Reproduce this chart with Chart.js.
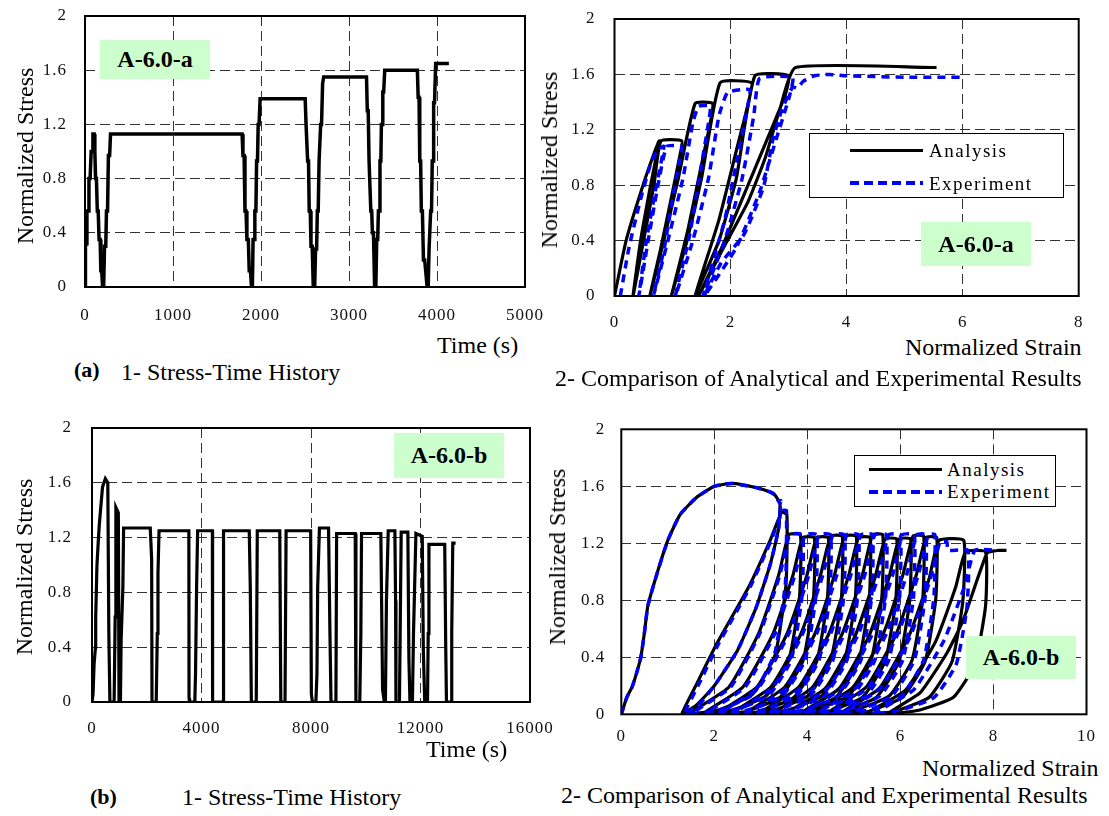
<!DOCTYPE html>
<html>
<head>
<meta charset="utf-8">
<script src="https://cdn.jsdelivr.net/npm/chart.js@4.4.0/dist/chart.umd.min.js"></script>
<style>
  html, body { margin: 0; padding: 0; background: #fff; }
  #page { position: relative; width: 1109px; height: 816px; overflow: hidden;
          font-family: 'Liberation Serif', 'Times New Roman', serif; color: #000; }
  canvas { position: absolute; }
  .txt    { position: absolute; white-space: nowrap; line-height: 1; font-size: 24px; }
  .ytitle { position: absolute; white-space: nowrap; line-height: 1; font-size: 24px;
            transform: translate(-50%, -50%) rotate(-90deg); }
  .tag    { position: absolute; background: #ccffcc; font-weight: bold; font-size: 24px;
            display: flex; align-items: center; justify-content: center; }
  .legend { position: absolute; background: #fff; border: 1px solid #000; box-sizing: border-box; }
  .legend .solid  { position: absolute; height: 3px; background: #000; }
  .legend .dashed { position: absolute; height: 4px;
                    background: repeating-linear-gradient(to right, #0000ff 0 9px, transparent 9px 14px); }
  .legend .lbl    { position: absolute; font-size: 19px; letter-spacing: 1.5px; line-height: 1; }
</style>
</head>
<body>
<div id="page">
  <canvas id="c1" width="545" height="330" style="left:0;top:0"></canvas>
  <canvas id="c2" width="569" height="330" style="left:540px;top:0"></canvas>
  <canvas id="c3" width="560" height="350" style="left:0;top:400px"></canvas>
  <canvas id="c4" width="569" height="350" style="left:540px;top:400px"></canvas>

  <!-- (a) row -->
  <div class="ytitle" style="left:25px;top:156px">Normalized Stress</div>
  <div class="tag" style="left:100px;top:40px;width:110px;height:39px">A-6.0-a</div>
  <div class="txt" style="left:437px;top:333px">Time (s)</div>
  <div class="txt" style="left:74px;top:359px;font-size:22px;font-weight:bold">(a)</div>
  <div class="txt" style="left:121px;top:360px">1- Stress-Time History</div>

  <div class="ytitle" style="left:549px;top:160px">Normalized Stress</div>
  <div class="legend" style="left:809px;top:133px;width:255px;height:65px">
    <div class="solid"  style="left:40px;top:15px;width:73px"></div>
    <div class="lbl"    style="left:119px;top:7px">Analysis</div>
    <div class="dashed" style="left:40px;top:47px;width:73px"></div>
    <div class="lbl"    style="left:119px;top:40px">Experiment</div>
  </div>
  <div class="tag" style="left:921px;top:222px;width:110px;height:44px">A-6.0-a</div>
  <div class="txt" style="left:905px;top:335px">Normalized Strain</div>
  <div class="txt" style="left:555px;top:366px">2- Comparison of Analytical and Experimental Results</div>

  <!-- (b) row -->
  <div class="ytitle" style="left:24px;top:567px">Normalized Stress</div>
  <div class="tag" style="left:394px;top:433px;width:110px;height:45px">A-6.0-b</div>
  <div class="txt" style="left:426px;top:737px">Time (s)</div>
  <div class="txt" style="left:90px;top:786px;font-size:22px;font-weight:bold">(b)</div>
  <div class="txt" style="left:182px;top:785px">1- Stress-Time History</div>

  <div class="ytitle" style="left:557px;top:557px">Normalized Stress</div>
  <div class="legend" style="left:854px;top:455px;width:202px;height:52px">
    <div class="solid"  style="left:14px;top:12px;width:73px"></div>
    <div class="lbl"    style="left:92px;top:4px">Analysis</div>
    <div class="dashed" style="left:14px;top:34px;width:73px"></div>
    <div class="lbl"    style="left:92px;top:26px">Experiment</div>
  </div>
  <div class="tag" style="left:966px;top:636px;width:110px;height:43px">A-6.0-b</div>
  <div class="txt" style="left:922px;top:756px">Normalized Strain</div>
  <div class="txt" style="left:561px;top:783px">2- Comparison of Analytical and Experimental Results</div>
</div>

<script>
/* ── ticks ── */
const stressTicks = [0, 0.4, 0.8, 1.2, 1.6, 2];
const timeTicksA  = [0, 1000, 2000, 3000, 4000, 5000];
const timeTicksB  = [0, 4000, 8000, 12000, 16000];
const strainTicksA = [0, 2, 4, 6, 8];
const strainTicksB = [0, 2, 4, 6, 8, 10];

/* ── (a) stress-time history [time, stress] ── */
const historyA = [
  [0,0],[5,0.3],[15,0.32],[22,0.56],[35,0.56],[45,0.8],[58,0.8],[70,1.0],[80,1.0],[90,1.13],
  [104,1.13],[112,1.0],[120,0.8],[130,0.8],[140,0.56],[150,0.56],[160,0.35],[172,0.35],[180,0.12],[190,0.12],
  [200,0],[212,0],[222,0.3],[236,0.3],[244,0.56],[256,0.56],[266,0.97],[280,0.97],[290,1.13],
  [1785,1.13],[1795,0.97],[1808,0.97],[1818,0.56],[1830,0.56],[1840,0.35],[1856,0.35],[1866,0.12],[1880,0.12],[1892,0],
  [1902,0],[1910,0.35],[1922,0.35],[1930,0.56],[1942,0.56],[1950,0.93],[1960,0.93],[1968,1.2],[1978,1.2],[1990,1.39],
  [2502,1.39],[2512,1.2],[2522,1.2],[2530,0.93],[2540,0.93],[2548,0.56],[2560,0.56],[2568,0.3],[2582,0.3],[2594,0],
  [2610,0],[2620,0.28],[2632,0.28],[2640,0.56],[2650,0.56],[2660,0.93],[2670,0.93],[2678,1.2],[2688,1.2],[2700,1.5],[2712,1.55],
  [3199,1.55],[3208,1.3],[3218,1.3],[3228,0.93],[3238,0.93],[3248,0.56],[3258,0.56],[3266,0.4],[3278,0.4],[3291,0],
  [3305,0],[3315,0.35],[3326,0.35],[3334,0.56],[3345,0.56],[3352,0.93],[3362,0.93],[3368,1.2],[3378,1.2],[3384,1.44],[3394,1.44],[3406,1.6],
  [3777,1.6],[3786,1.4],[3796,1.4],[3804,0.93],[3814,0.93],[3822,0.56],[3834,0.56],[3846,0.2],[3860,0.2],[3888,0],
  [3900,0],[3910,0.28],[3920,0.28],[3928,0.56],[3938,0.56],[3946,0.93],[3956,0.93],[3962,1.36],[3972,1.36],[3985,1.65],[4135,1.65]
];

/* ── (b) stress-time history ── */
const historyB = [
  [0,0],[38,0.06],[77,0.28],[128,0.4],[135,0.62],[180,0.99],[231,1.18],[269,1.3],[333,1.45],[385,1.57],
  [487,1.63],[577,1.6],[615,0.5],[654,0],[808,0],[846,0.62],[872,1.42],[962,1.38],[987,0],[1038,0],
  [1064,0.45],[1128,0.84],[1154,1.27],[2128,1.27],[2179,1.04],[2192,0],[2346,0],[2385,0.5],[2410,0.94],[2449,1.25],
  [3538,1.25],[3545,0.03],[3564,0],[3756,0],[3782,0.21],[3821,0.84],[3859,1.25],[4397,1.25],[4405,0],[4795,0],
  [4805,1.25],[5744,1.25],[5782,0.84],[5821,0],[6000,0],[6038,1.25],[6859,1.25],[6897,0],[7051,0],[7090,1.25],
  [7987,1.25],[8013,0.06],[8051,0],[8179,0],[8218,0.21],[8244,0.84],[8308,1.27],[8641,1.27],[8692,0.5],[8731,0],
  [8910,0],[8936,1.23],[9615,1.23],[9641,0],[9782,0],[9821,0.5],[9846,1.23],[10551,1.23],[10615,0.09],[10679,0],
  [10718,0],[10756,0.74],[10821,1.25],[11064,1.25],[11090,0.74],[11103,0],[11231,0],[11269,0.74],[11295,1.24],[11538,1.24],
  [11577,0.31],[11615,0],[11705,0],[11744,0.5],[11833,1.23],[12064,1.21],[12103,0.38],[12154,0],[12256,0],[12282,0.5],
  [12308,1.15],[12885,1.15],[12923,0.38],[12949,0],[13115,0],[13141,0.5],[13179,1.16],[13282,1.16]
];

/* ── (a) stress-strain [strain, stress] ── */
const analysisA = [
  [0,0],[0.2,0.4],[0.5,0.81],[0.7,1.05],[0.77,1.12],
  [0.6,0.75],[0.45,0.4],[0.32,0],
  [0.5,0.4],[0.68,0.8],[0.8,1.12],[1.16,1.12],
  [1.12,1.0],[0.95,0.65],[0.8,0.35],[0.61,0],
  [0.85,0.4],[1.1,0.85],[1.39,1.39],[1.69,1.39],
  [1.65,1.25],[1.45,0.85],[1.25,0.45],[0.98,0],
  [1.25,0.4],[1.5,0.85],[1.82,1.54],[2.36,1.54],
  [2.31,1.4],[2.1,1.05],[1.8,0.55],[1.39,0],
  [1.8,0.4],[2.1,0.85],[2.42,1.59],[3.0,1.59],
  [2.94,1.45],[2.6,1.1],[2.2,0.7],[1.85,0.35],[1.45,0],
  [1.83,0.31],[2.3,0.68],[2.6,1.0],[2.85,1.35],[3.12,1.65],[5.55,1.65]
];
const experimentA = [
  [0.1,0],[0.25,0.35],[0.45,0.7],[0.62,0.95],[0.73,1.05],[0.85,1.08],
  [0.7,0.75],[0.55,0.4],[0.42,0],
  [0.58,0.4],[0.75,0.8],[0.9,1.08],[1.16,1.08],
  [1.12,0.98],[1.0,0.7],[0.86,0.35],[0.67,0],
  [0.92,0.4],[1.18,0.85],[1.35,1.25],[1.45,1.37],[1.65,1.37],
  [1.62,1.25],[1.48,0.9],[1.3,0.45],[1.05,0],
  [1.35,0.4],[1.62,0.85],[1.8,1.3],[1.95,1.47],[2.33,1.49],
  [2.3,1.38],[2.12,1.0],[1.9,0.55],[1.53,0],
  [1.9,0.4],[2.2,0.85],[2.4,1.3],[2.5,1.57],[3.07,1.58],
  [3.02,1.45],[2.8,1.15],[2.5,0.75],[2.1,0.35],[1.55,0],
  [1.84,0.24],[2.24,0.45],[2.57,0.79],[2.73,1.13],[2.88,1.34],[3.07,1.51],[3.15,1.5],
  [3.25,1.55],[3.45,1.59],[3.7,1.6],[4.0,1.59],[5.0,1.58],[6.0,1.58]
];

/* ── (b) stress-strain: common first loading, then the loops ── */
const envelopeB = [
  [0,0],[0.12,0.12],[0.23,0.19],[0.32,0.28],[0.42,0.4],[0.5,0.58],[0.57,0.76],[0.77,0.99],
  [1.0,1.22],[1.26,1.4],[1.61,1.52],[2.0,1.6],[2.38,1.62],[2.91,1.59],[3.2,1.56],[3.3,1.54],[3.41,1.48]
];
const analysisB = [
  [3.38,1.3],[3.2,1.05],[2.9,0.75],[2.5,0.45],[2.0,0.2],[1.6,0.06],[1.3,0],
  [1.6,0.2],[2.06,0.5],[2.75,0.9],[3.2,1.22],[3.45,1.42],[3.56,1.4],
  [3.54,0.91],[3.31,0.42],[2.82,0.14],[2.08,0.03],[1.45,0],
  [2.31,0.19],[2.955,0.57],[3.385,0.98],[3.6,1.26],[3.85,1.26],
  [3.83,0.82],[3.6,0.38],[3.115,0.13],[2.38,0.03],[1.75,0],
  [2.61,0.19],[3.255,0.56],[3.685,0.97],[3.9,1.24],[4.15,1.24],
  [4.13,0.81],[3.9,0.37],[3.415,0.12],[2.68,0.02],[2.05,0],
  [2.91,0.19],[3.555,0.56],[3.985,0.97],[4.2,1.24],[4.45,1.24],
  [4.43,0.81],[4.2,0.37],[3.715,0.12],[2.98,0.02],[2.35,0],
  [3.21,0.19],[3.855,0.56],[4.285,0.98],[4.5,1.25],[4.75,1.25],
  [4.73,0.81],[4.5,0.38],[4.015,0.13],[3.28,0.03],[2.65,0],
  [3.51,0.19],[4.155,0.56],[4.585,0.98],[4.8,1.25],[5.05,1.25],
  [5.03,0.81],[4.8,0.38],[4.315,0.13],[3.58,0.03],[2.95,0],
  [3.81,0.19],[4.455,0.56],[4.885,0.97],[5.1,1.24],[5.35,1.24],
  [5.33,0.81],[5.1,0.37],[4.615,0.12],[3.88,0.02],[3.25,0],
  [4.11,0.19],[4.755,0.57],[5.185,0.98],[5.4,1.26],[5.62,1.26],
  [5.6,0.82],[5.37,0.38],[4.885,0.13],[4.15,0.03],[3.52,0],
  [4.38,0.18],[5.025,0.55],[5.455,0.96],[5.67,1.23],[5.92,1.23],
  [5.9,0.8],[5.67,0.37],[5.185,0.12],[4.45,0.02],[3.82,0],
  [4.68,0.18],[5.325,0.55],[5.755,0.96],[5.97,1.23],[6.22,1.23],
  [6.2,0.8],[5.97,0.37],[5.485,0.12],[4.75,0.02],[4.12,0],
  [4.98,0.19],[5.625,0.56],[6.055,0.98],[6.27,1.25],[6.5,1.25],
  [6.48,0.81],[6.25,0.38],[5.765,0.13],[5.03,0.03],[4.4,0],
  [5.26,0.19],[5.905,0.56],[6.335,0.97],[6.55,1.24],[6.78,1.24],
  [6.76,0.81],[6.53,0.37],[6.045,0.12],[5.31,0.02],[4.68,0],
  [5.54,0.18],[6.185,0.55],[6.615,0.95],[6.83,1.22],[7.36,1.22],
  [7.34,0.79],[7.11,0.37],[6.62,0.12],[5.88,0.02],[5.25,0],
  [6.11,0.17],[6.755,0.51],[7.185,0.89],[7.4,1.14],[7.83,1.14],
  [7.83,0.76],[7.6,0.35],[7.14,0.12],[6.42,0.03],[5.71,0],
  [6.42,0.15],[7.0,0.43],[7.35,0.66],[7.86,1.13],[8.1,1.15],[8.28,1.15]
];
const experimentB = [
  [3.43,1.5],
  [3.38,1.3],[3.2,1.05],[2.9,0.75],[2.5,0.45],[2.0,0.2],[1.65,0.06],[1.35,0],
  [1.65,0.2],[2.1,0.5],[2.78,0.9],[3.22,1.22],[3.47,1.43],[3.55,1.43],
  [3.53,0.93],[3.3,0.43],[2.83,0.14],[2.115,0.03],[1.5,0],
  [2.35,0.19],[2.98,0.57],[3.41,0.98],[3.62,1.26],[3.9,1.26],
  [3.88,0.82],[3.65,0.38],[3.165,0.13],[2.43,0.03],[1.8,0],
  [2.66,0.19],[3.305,0.57],[3.735,0.98],[3.95,1.26],[4.2,1.26],
  [4.18,0.82],[3.95,0.38],[3.465,0.13],[2.73,0.03],[2.1,0],
  [2.96,0.19],[3.605,0.57],[4.035,0.98],[4.25,1.26],[4.5,1.26],
  [4.48,0.82],[4.25,0.38],[3.765,0.13],[3.03,0.03],[2.4,0],
  [3.26,0.19],[3.905,0.57],[4.335,0.98],[4.55,1.26],[4.8,1.26],
  [4.78,0.82],[4.55,0.38],[4.065,0.13],[3.33,0.03],[2.7,0],
  [3.56,0.19],[4.205,0.57],[4.635,0.98],[4.85,1.26],[5.1,1.26],
  [5.08,0.82],[4.85,0.38],[4.365,0.13],[3.63,0.03],[3.0,0],
  [3.86,0.19],[4.505,0.57],[4.935,0.98],[5.15,1.26],[5.4,1.26],
  [5.38,0.82],[5.15,0.38],[4.665,0.13],[3.93,0.03],[3.3,0],
  [4.16,0.19],[4.805,0.57],[5.235,0.98],[5.45,1.26],[5.7,1.26],
  [5.68,0.82],[5.45,0.38],[4.965,0.13],[4.23,0.03],[3.6,0],
  [4.46,0.19],[5.105,0.57],[5.535,0.98],[5.75,1.26],[6.0,1.26],
  [5.98,0.82],[5.75,0.38],[5.265,0.13],[4.53,0.03],[3.9,0],
  [4.76,0.19],[5.405,0.57],[5.835,0.98],[6.05,1.26],[6.3,1.26],
  [6.28,0.82],[6.05,0.38],[5.565,0.13],[4.83,0.03],[4.2,0],
  [5.06,0.19],[5.705,0.57],[6.135,0.98],[6.35,1.26],[6.55,1.26],
  [6.53,0.82],[6.3,0.38],[5.815,0.13],[5.08,0.03],[4.45,0],
  [5.31,0.19],[5.955,0.57],[6.385,0.98],[6.6,1.26],[6.74,1.26],
  [6.72,0.82],[6.5,0.38],[6.03,0.13],[5.31,0.03],[4.7,0],
  [5.56,0.18],[6.205,0.54],[6.635,0.94],[6.85,1.21],[7.0,1.21],[7.02,1.15],[7.45,1.15],
  [7.43,0.75],[7.2,0.35],[6.73,0.12],[6.02,0.03],[5.4,0],
  [6.28,0.17],[6.94,0.52],[7.38,0.9],[7.6,1.15],[8.08,1.15]
];

/* ─────────────────────────── helpers ─────────────────────── */

const FONT = "'Liberation Serif', 'Times New Roman', serif";

const pts = arr => arr.map(([x, y]) => ({ x, y }));

/* black frame round the plot area */
const framePlugin = {
  id: 'frame',
  beforeDraw(chart) { chart.ctx.letterSpacing = '1px'; },
  afterDatasetsDraw(chart) {
    const { ctx, chartArea: a } = chart;
    ctx.save();
    ctx.setLineDash([]);
    ctx.strokeStyle = '#000';
    ctx.lineWidth = 2;
    ctx.strokeRect(a.left, a.top, a.right - a.left, a.bottom - a.top);
    ctx.restore();
  }
};

/* gap between axis and labels goes into an invisible tick mark, so it
   does not get added to the layout margins the way ticks.padding does */
function axis(ticks, gap, fit, horizontal) {
  return {
    type: 'linear',
    min: ticks[0],
    max: ticks[ticks.length - 1],
    afterBuildTicks: s => { s.ticks = ticks.map(v => ({ value: v })); },
    afterFit: s => { if (horizontal) s.height = fit; else s.width = fit; },
    ticks: {
      autoSkip: false, maxRotation: 0, padding: 0,
      color: '#111', font: { family: FONT, size: 17 },
      callback: v => String(v),
    },
    grid  : { color: '#333', lineWidth: 1, drawTicks: true, tickLength: gap, tickColor: 'rgba(0,0,0,0)' },
    border: { display: false, dash: [10, 5] },
  };
}

const black = data => ({
  data: pts(data), showLine: true, borderColor: '#000', borderWidth: 3.2,
  pointRadius: 0, tension: 0.15, order: 1,
});
const blue = data => ({
  data: pts(data), showLine: true, borderColor: '#0000ff', borderWidth: 3.5,
  borderDash: [8, 6], pointRadius: 0, tension: 0.15, order: 0,
});

function draw(id, datasets, p) {
  return new Chart(document.getElementById(id), {
    type: 'scatter',
    data: { datasets },
    options: {
      responsive: false,
      animation : false,
      layout : { padding: { left: 0, top: p.top, right: p.right, bottom: 0 } },
      plugins: { legend: { display: false }, tooltip: { enabled: false } },
      scales : {
        x: axis(p.xTicks, p.xGap, p.bottom, true),
        y: axis(stressTicks, p.yGap, p.left, false),
      },
    },
    plugins: [framePlugin],
  });
}

/* ─────────────────────────── charts ─────────────────────── */

draw('c1', [ { ...black(historyA), borderWidth: 3.5, tension: 0 } ],
  { xTicks: timeTicksA, left: 85, top: 16, right: 20, bottom: 43, xGap: 18, yGap: 18 });

draw('c2', [ black(analysisA), blue(experimentA) ],
  { xTicks: strainTicksA, left: 74.5, top: 19, right: 30.3, bottom: 34, xGap: 16, yGap: 19 });

draw('c3', [ { ...black(historyB), tension: 0 } ],
  { xTicks: timeTicksB, left: 92, top: 28, right: 30, bottom: 48, xGap: 16, yGap: 20 });

draw('c4', [ black(envelopeB.concat(analysisB)), blue(envelopeB.concat(experimentB)) ],
  { xTicks: strainTicksB, left: 81.3, top: 29.3, right: 22.5, bottom: 35.7, xGap: 12.5, yGap: 16 });
</script>
</body>
</html>
